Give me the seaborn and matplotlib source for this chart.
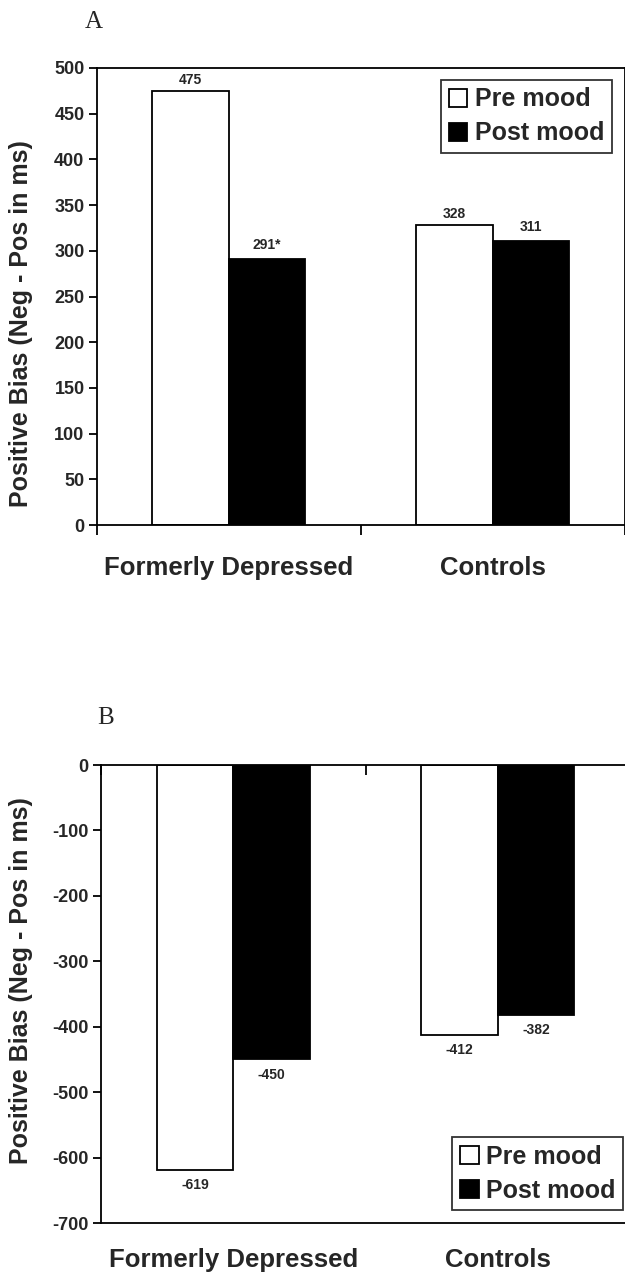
import pandas as pd
import seaborn as sns
import matplotlib.pyplot as plt

# Chart data
groups = ['Formerly Depressed', 'Controls']
conditions = ['Pre mood', 'Post mood']
pre_a = [475, 328]
post_a = [291, 311]
pre_b = [-619, -412]
post_b = [-450, -382]
labels_a_pre = ['475', '328']
labels_a_post = ['291*', '311']
labels_b_pre = ['-619', '-412']
labels_b_post = ['-450', '-382']
yticks_a = list(range(0, 501, 50))
yticks_b = list(range(-700, 1, 100))

sns.set_theme(style='white')
plt.rcParams['font.family'] = ['Liberation Sans', 'DejaVu Sans']
plt.rcParams['font.weight'] = 'bold'
plt.rcParams['axes.unicode_minus'] = False

def make_df(pre, post):
    return pd.DataFrame({
        'group': groups * 2,
        'condition': [conditions[0]] * 2 + [conditions[1]] * 2,
        'value': pre + post,
    })

df_a = make_df(pre_a, post_a)
df_b = make_df(pre_b, post_b)

fig = plt.figure(figsize=(6.25, 12.76), dpi=100)
W, H = 625, 1276
ax_a = fig.add_axes([97 / W, 1 - 525 / H, 527.5 / W, 457 / H])
ax_b = fig.add_axes([101 / W, 1 - 1223 / H, 529 / W, 458 / H])

palette = {'Pre mood': 'white', 'Post mood': 'black'}

for ax, df in [(ax_a, df_a), (ax_b, df_b)]:
    sns.barplot(data=df, x='group', y='value', hue='condition', order=groups,
                hue_order=conditions, palette=palette, edgecolor='black',
                linewidth=1.3, width=0.58, saturation=1, ax=ax)
    ax.set_xlim(-0.5, 1.5)
    ax.set_xlabel('')
    ax.set_ylabel('Positive Bias (Neg - Pos in ms)', fontsize=18, fontweight='bold')
    for s in ax.spines.values():
        s.set_visible(True)
        s.set_color('black')
        s.set_linewidth(1.3)
    ax.set_xticks([0, 1])
    ax.set_xticklabels(groups, fontsize=18.5, fontweight='bold')
    ax.set_xticks([-0.5, 0.5, 1.5], minor=True)
    ax.tick_params(axis='y', which='major', left=True, direction='out', length=6,
                   width=1.3, color='black', labelsize=13, pad=3)

legend_kw = dict(frameon=True, fancybox=False, edgecolor='black', fontsize=18,
                 handlelength=0.75, handleheight=0.75, handletextpad=0.3,
                 borderpad=0.3, labelspacing=0.4, borderaxespad=0)

# Panel A
ax_a.set_ylim(0, 500)
ax_a.set_yticks(yticks_a)
ax_a.yaxis.set_label_coords(-0.122, 0.44)
ax_a.tick_params(axis='x', which='major', length=0, pad=22)
ax_a.tick_params(axis='x', which='minor', bottom=True, direction='out', length=7, width=1.3, color='black')
leg_a = ax_a.legend(loc='upper right', bbox_to_anchor=(0.976, 0.974), **legend_kw)
ax_a.bar_label(ax_a.containers[0], labels=labels_a_pre, padding=3, fontsize=10, fontweight='bold')
ax_a.bar_label(ax_a.containers[1], labels=labels_a_post, padding=5, fontsize=10, fontweight='bold')
fig.text(85 / W, 1 - 22 / H, 'A', family='Liberation Serif', fontweight='normal', fontsize=18,
         va='center', ha='left')

# Panel B
ax_b.set_ylim(-700, 0)
ax_b.set_yticks(yticks_b)
ax_b.yaxis.set_label_coords(-0.128, 0.53)
ax_b.tick_params(axis='x', which='major', length=0, pad=18)
ax_b.tick_params(axis='x', which='minor', bottom=False, top=True, direction='in', length=7, width=1.3, color='black')
leg_b = ax_b.legend(loc='lower right', bbox_to_anchor=(0.987, 0.028), **legend_kw)
ax_b.bar_label(ax_b.containers[0], labels=labels_b_pre, padding=6, fontsize=10, fontweight='bold')
ax_b.bar_label(ax_b.containers[1], labels=labels_b_post, padding=6, fontsize=10, fontweight='bold')
fig.text(97 / W, 1 - 718 / H, 'B', family='Liberation Serif', fontweight='normal', fontsize=18,
         va='center', ha='left')

for leg in (leg_a, leg_b):
    leg.get_frame().set_linewidth(1.3)
    for t in leg.get_texts():
        t.set_fontweight('bold')

fig.savefig('out.png', dpi=100, facecolor='white')
